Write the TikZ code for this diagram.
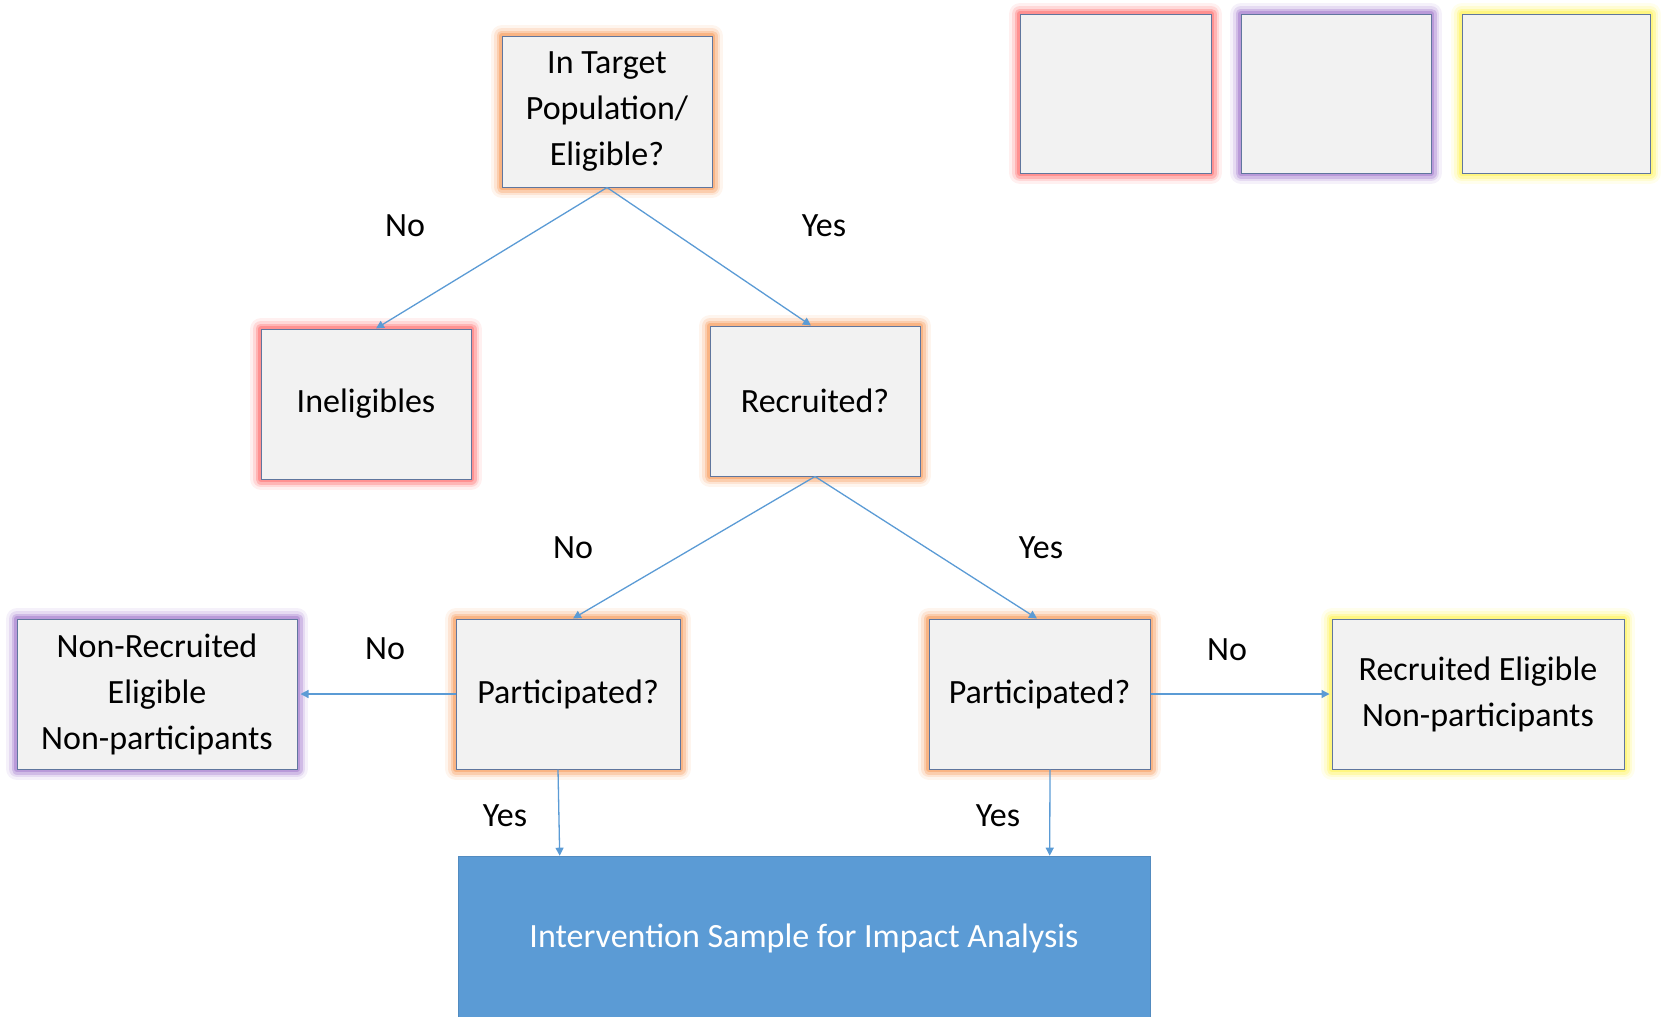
\documentclass[tikz,border=0pt]{standalone}
\usepackage{fontspec}
\setmainfont{Carlito}
\usetikzlibrary{arrows.meta,calc}
\definecolor{boxfill}{RGB}{242,242,242}
\definecolor{boxline}{RGB}{96,118,158}
\definecolor{arrowc}{RGB}{91,155,213}
\definecolor{gorange}{RGB}{248,170,115}
\definecolor{gred}{RGB}{255,130,130}
\definecolor{gpurple}{RGB}{175,140,212}
\definecolor{gyellow}{RGB}{255,245,110}
\definecolor{bluefill}{RGB}{91,155,213}
\tikzset{
  glow/.style={preaction={draw=#1,draw opacity=0.12,line width=22pt,line join=round},
               preaction={draw=#1,draw opacity=0.22,line width=16pt,line join=round},
               preaction={draw=#1,draw opacity=0.4,line width=11pt,line join=round},
               preaction={draw=#1,draw opacity=0.7,line width=6pt,line join=round}},
  box/.style={rectangle,draw=boxline,line width=1pt,fill=boxfill,
              align=center,inner sep=0pt,font=\fontsize{34}{46}\selectfont,
              minimum height=150pt},
  lbl/.style={font=\fontsize{34}{40}\selectfont,inner sep=0pt},
  arr/.style={draw=arrowc,line width=1.3pt,-{Triangle[width=8pt,length=8pt]}}
}
\begin{document}
\begin{tikzpicture}[x=1pt,y=-1pt]
\useasboundingbox (0,0) rectangle (1662,1017);
% legend boxes
\node[box,glow=gred,minimum width=191pt,minimum height=159pt] (lr) at (1115.5,93.5) {};
\node[box,glow=gpurple,minimum width=190pt,minimum height=159pt] (lp) at (1336,93.5) {};
\node[box,glow=gyellow,minimum width=188pt,minimum height=159pt] (ly) at (1556,93.5) {};
% flow boxes
\node[box,glow=gorange,minimum width=210pt,minimum height=151pt] (top) at (607,111.5) {In Target\\Population/\\Eligible?};
\node[box,glow=gred,minimum width=210pt] (inel) at (366,404) {Ineligibles};
\node[box,glow=gorange,minimum width=210pt] (rec) at (815,401) {Recruited?};
\node[box,glow=gorange,minimum width=224pt] (pl) at (568,694) {Participated?};
\node[box,glow=gorange,minimum width=221pt] (pr) at (1039.5,694) {Participated?};
\node[box,glow=gpurple,minimum width=280pt] (nr) at (157,694) {Non-Recruited\\Eligible\\Non-participants};
\node[box,glow=gyellow,minimum width=292pt] (re) at (1478,694) {Recruited Eligible\\Non-participants};
\node[rectangle,fill=bluefill,draw=bluefill!90!black,line width=0.6pt,minimum width=692pt,minimum height=164pt,
      inner sep=0pt,text=white,font=\fontsize{34}{40}\selectfont] (iv) at (804,938) {Intervention Sample for Impact Analysis};
% connectors
\draw[arr] (top.south) -- ([xshift=10pt]inel.north);
\draw[arr] (top.south) -- ([xshift=-4pt]rec.north);
\draw[arr] (rec.south) -- ([xshift=5pt]pl.north);
\draw[arr] (rec.south) -- ([xshift=-2.5pt]pr.north);
\draw[arr] (pl.west) -- ([xshift=3pt]nr.east);
\draw[arr] (pr.east) -- ([xshift=-2pt]re.west);
\draw[arr] ([xshift=-10pt]pl.south) -- ($(iv.north west)+(102,0)$);
\draw[arr] ([xshift=10.5pt]pr.south) -- ($(iv.north west)+(592,0)$);
% labels
\node[lbl] (l1) at (405,226) {No};
\node[lbl] (l2) at (824,226) {Yes};
\node[lbl] (l3) at (573,548) {No};
\node[lbl] (l4) at (1041,548) {Yes};
\node[lbl] (l5) at (385,649) {No};
\node[lbl] (l6) at (1227,650) {No};
\node[lbl] (l7) at (505,816) {Yes};
\node[lbl] (l8) at (998,816) {Yes};
\end{tikzpicture}
\end{document}
